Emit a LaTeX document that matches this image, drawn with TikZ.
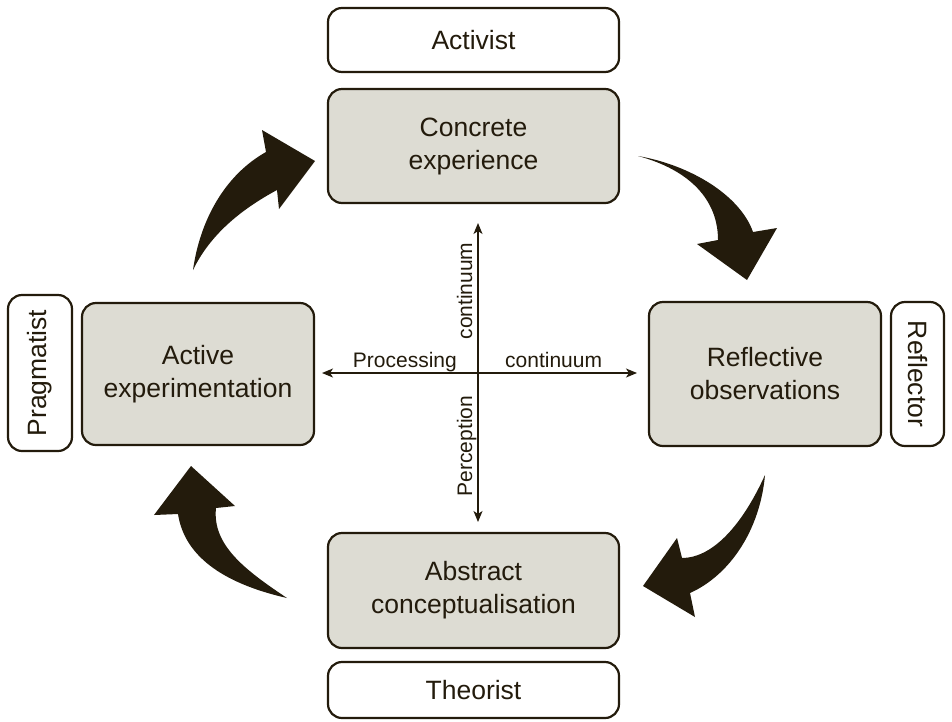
\documentclass[tikz,border=0pt]{standalone}
\usepackage{fontspec}
\setmainfont{Liberation Sans}
\usetikzlibrary{arrows.meta}
\definecolor{ink}{RGB}{35,27,12}
\definecolor{stagefill}{RGB}{221,220,211}
\begin{document}
\begin{tikzpicture}[x=1pt,y=-1pt,
  box/.style={draw=ink, line width=2.2pt, rounded corners=14pt, align=center,
    text=ink, font=\fontsize{26.5}{33}\selectfont, inner sep=0pt},
  stage/.style={box, fill=stagefill},
  role/.style={box, fill=white},
  axislabel/.style={text=ink, font=\fontsize{21}{25}\selectfont, inner sep=0pt},
  tip/.tip={Stealth[length=11pt,width=9pt,inset=3pt]},
  axis/.style={draw=ink, line width=1.3pt, tip-tip},
  cyclearrow/.style={fill=ink, draw=none}]
\fill[white] (0,0) rectangle (952,721);
\useasboundingbox (0,0) rectangle (952,721);

% the four stages of the cycle
\node[stage, minimum width=291, minimum height=114] (ce) at (473.5,146) {Concrete\\experience};
\node[stage, minimum width=232, minimum height=144] (ro) at (765,374) {Reflective\\observations};
\node[stage, minimum width=291, minimum height=115] (ac) at (473.5,590.5) {Abstract\\conceptualisation};
\node[stage, minimum width=232, minimum height=142] (ae) at (198,374) {Active\\experimentation};

% learning styles
\node[role, minimum width=291, minimum height=64] (activist) at (473.5,40) {Activist};
\node[role, minimum width=291, minimum height=56] (theorist) at (473.5,690) {Theorist};
\node[role, rotate=90, minimum width=156, minimum height=64] (prag) at (40,373) {Pragmatist};
\node[role, rotate=-90, minimum width=144, minimum height=53] (refl) at (917.5,374) {Reflector};

% the two continua
\coordinate (up) at (478,223);
\coordinate (down) at (478,522);
\coordinate (left) at (322,373);
\coordinate (right) at (637,373);
\draw[axis] (down) -- (up);
\draw[axis] (left) -- (right);
\node[axislabel, anchor=base east] (proc) at (457,367) {Processing};
\node[axislabel, anchor=base west] (contr) at (505,367) {continuum};
\node[axislabel, rotate=90, anchor=base] (contv) at (472,291) {continuum};
\node[axislabel, rotate=90, anchor=base] (perc) at (472,446) {Perception};

% curved arrows around the cycle
\fill[cyclearrow] (193,270) .. controls (200,220) and (225,175) .. (266,152)
  -- (262,130) -- (315,161) -- (279,209) -- (277,190)
  .. controls (240,210) and (210,235) .. (193,270) -- cycle;
\fill[cyclearrow] (638,156) .. controls (690,165) and (740,195) .. (753,232)
  -- (777,228) -- (747,280) -- (697,244) -- (718,240)
  .. controls (718,200) and (690,170) .. (638,156) -- cycle;
\fill[cyclearrow] (765,475) .. controls (760,530) and (730,575) .. (690,593)
  -- (695,617) -- (643,586) -- (677,538) -- (682,558)
  .. controls (710,558) and (740,530) .. (765,475) -- cycle;
\fill[cyclearrow] (287,598) .. controls (230,585) and (185,560) .. (178,514)
  -- (154,515) -- (191,466) -- (235,506) -- (216,508)
  .. controls (212,545) and (245,570) .. (287,598) -- cycle;
\end{tikzpicture}
\end{document}
